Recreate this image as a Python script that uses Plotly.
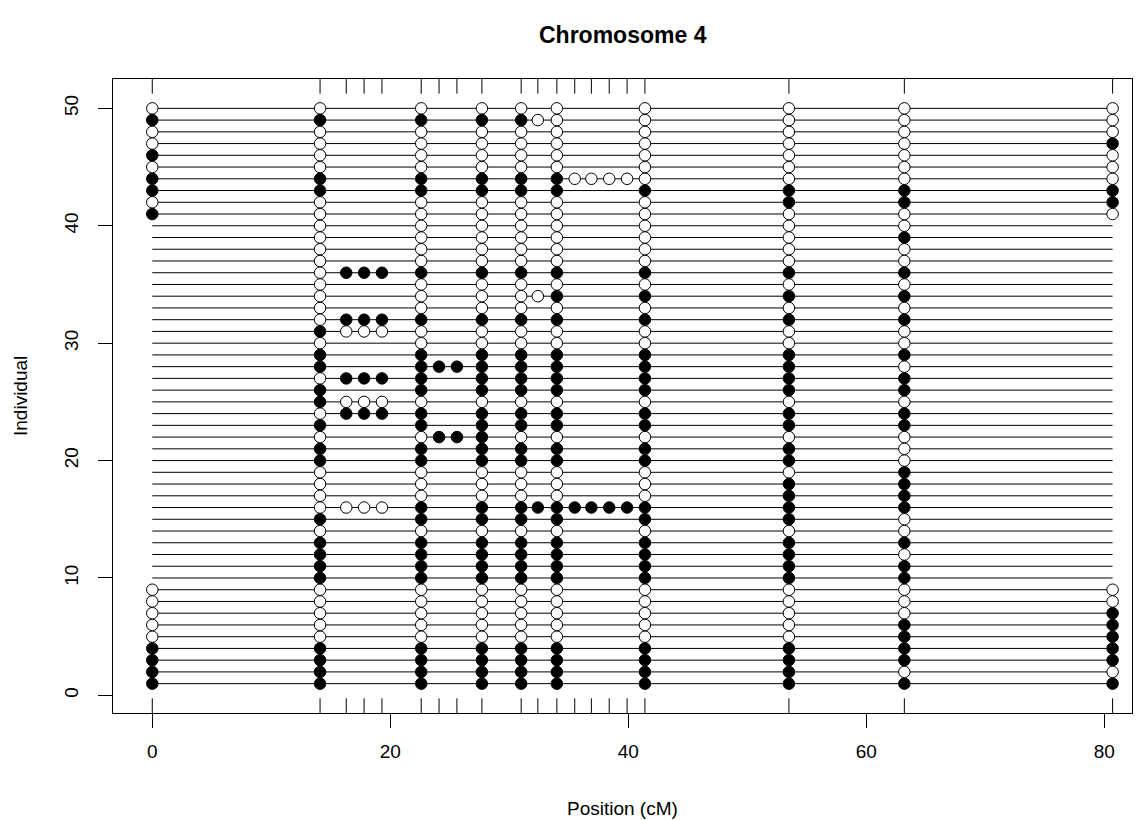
import plotly.graph_objects as go

# ---- data ----
title = "Chromosome 4"
x_title = "Position (cM)"
y_title = "Individual"
marker_pos = [0.0, 14.1, 16.3, 17.8, 19.3, 22.6, 24.1, 25.6, 27.7, 31.0, 32.4,
              34.0, 35.5, 36.9, 38.4, 39.9, 41.4, 53.5, 63.2, 80.7]
n_ind = 50
# genotype strings, individual 1..50 ; A = open circle, B = filled circle, - = missing
geno_0    = "BBBBAAAAA" + "-" * 31 + "BABBABAABA"
geno_14_1 = "BBBBAAAAAB" "BBBABAAAAB" "BABABBABBA" "BAAAAAAAAA" "AABBAAAABA"
sparse_16 = {16: "A", 24: "B", 25: "A", 27: "B", 31: "A", 32: "B", 36: "B"}
geno_22_6 = "BBBBAAAAAB" "BBBABBAAAB" "BABBABBBBA" "ABAAABAAAA" "AABBAAAABA"
sparse_24 = {22: "B", 28: "B"}
geno_27_7 = "BBBBAAAAAB" "BBBABBAAAB" "BBBBABBBBA" "ABAAABAAAA" "AABBAAAABA"
geno_31_0 = "BBBBAAAAAB" "BBBABBAAAB" "BABBABBBBA" "ABAAABAAAA" "AABBAAAABA"
sparse_32 = {16: "B", 34: "A", 49: "A"}
geno_34_0 = "BBBBAAAAAB" "BBBABBAAAB" "BABBABBBBA" "ABABABAAAA" "AABBAAAAAA"
sparse_35 = {16: "B", 44: "A"}
geno_41_4 = "BBBBAAAAAB" "BBBABBAAAB" "BABBABBBBA" "ABABABAAAA" "AABAAAAAAA"
geno_53_5 = "BBBBAAAAAB" "BBBABBBBAB" "BABBABBBBA" "ABABABAAAA" "ABBAAAAAAA"
geno_63_2 = "BABBBBAAAB" "BABAABBBBA" "AABBABBABA" "ABABABAABA" "ABBAAAAAAA"
geno_80_7 = "BABBBBBAA" + "-" * 31 + "ABBAAABAAA"


def sparse_to_str(d):
    return "".join(d.get(i, "-") for i in range(1, n_ind + 1))


genotypes = [geno_0, geno_14_1,
             sparse_to_str(sparse_16), sparse_to_str(sparse_16), sparse_to_str(sparse_16),
             geno_22_6,
             sparse_to_str(sparse_24), sparse_to_str(sparse_24),
             geno_27_7, geno_31_0, sparse_to_str(sparse_32), geno_34_0,
             sparse_to_str(sparse_35), sparse_to_str(sparse_35),
             sparse_to_str(sparse_35), sparse_to_str(sparse_35),
             geno_41_4, geno_53_5, geno_63_2, geno_80_7]

# ---- figure ----
XR = [-3.30, 82.33]
YR = [-1.5, 52.5]
TICK_LEN = 1.25
FONT = "Liberation Sans, Arial, sans-serif"

fig = go.Figure()

# individual lines
lx, ly = [], []
for i in range(1, n_ind + 1):
    lx += [min(marker_pos), max(marker_pos), None]
    ly += [i, i, None]
fig.add_trace(go.Scatter(x=lx, y=ly, mode="lines",
                         line=dict(color="black", width=1), hoverinfo="skip"))

# genotype points
for code, fill in (("A", "white"), ("B", "black")):
    px, py = [], []
    for pos, g in zip(marker_pos, genotypes):
        for i, c in enumerate(g):
            if c == code:
                px.append(pos)
                py.append(i + 1)
    fig.add_trace(go.Scatter(x=px, y=py, mode="markers",
                             marker=dict(symbol="circle", size=11.5, color=fill,
                                         line=dict(color="black", width=1))))

# marker ticks top and bottom
tx, ty = [], []
for pos in marker_pos:
    tx += [pos, pos, None, pos, pos, None]
    ty += [YR[0], YR[0] + TICK_LEN, None, YR[1], YR[1] - TICK_LEN, None]
fig.add_trace(go.Scatter(x=tx, y=ty, mode="lines",
                         line=dict(color="black", width=1), hoverinfo="skip"))

fig.update_layout(
    width=1136, height=812,
    margin=dict(l=105, r=12, t=71, b=107),
    paper_bgcolor="white", plot_bgcolor="white",
    showlegend=False,
    font=dict(family=FONT, size=19, color="black"),
    xaxis=dict(range=XR, tickvals=[0, 20, 40, 60, 80], ticks="outside", ticklen=14,
               tickwidth=1, tickcolor="black", showgrid=False, zeroline=False,
               showline=True, mirror=True, linecolor="black", linewidth=1,
               tickfont=dict(size=19), ticklabelstandoff=7),
    yaxis=dict(range=YR, tickvals=[0, 10, 20, 30, 40, 50], ticks="outside", ticklen=14,
               tickwidth=1, tickcolor="black", showgrid=False, zeroline=False,
               showline=True, mirror=True, linecolor="black", linewidth=1,
               tickangle=-90, tickfont=dict(size=19), ticklabelstandoff=12),
    annotations=[
        dict(text="<b>%s</b>" % title, x=0.5, y=1, xref="paper", yref="paper",
             yshift=44, showarrow=False, font=dict(size=23), yanchor="middle"),
        dict(text=x_title, x=0.5, y=0, xref="paper", yref="paper", yshift=-95,
             showarrow=False, yanchor="middle"),
        dict(text=y_title, x=0, y=0.5, xref="paper", yref="paper", xshift=-93,
             showarrow=False, textangle=-90, xanchor="center"),
    ],
)

fig.write_html("out.html")
